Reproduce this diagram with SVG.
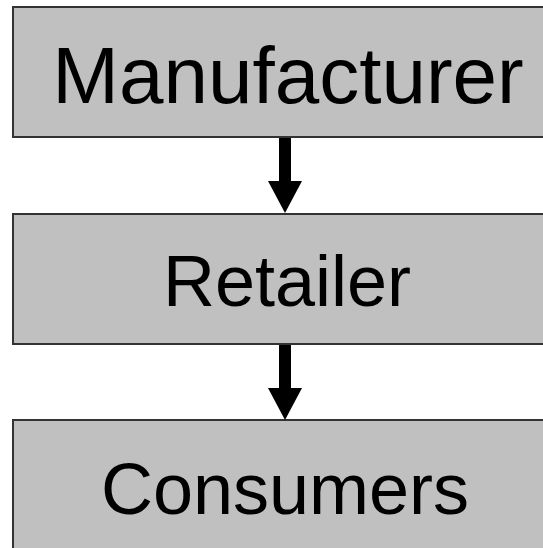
<svg xmlns="http://www.w3.org/2000/svg" width="543" height="548" viewBox="0 0 543 548">
<style>
.box{fill:#c0c0c0;stroke:#333;stroke-width:2}
.lbl{font-family:"Liberation Sans",Arial,sans-serif;font-size:72px;fill:#000;text-anchor:middle}
</style>
<rect width="543" height="548" fill="#fff"/>
<g id="manufacturer"><rect class="box" x="13" y="7" width="550" height="130"/><text class="lbl" x="288" y="103" style="font-size:80px">Manufacturer</text></g>
<g id="retailer"><rect class="box" x="13" y="214" width="550" height="130"/><text class="lbl" x="287" y="306">Retailer</text></g>
<g id="consumers"><rect class="box" x="13" y="420" width="550" height="140"/><text class="lbl" x="285" y="514">Consumers</text></g>
<g id="connectors" fill="#000">
<polygon points="279,138 291,138 291,181 302,181 285,213 268,181 279,181"/>
<polygon points="279,345 291,345 291,388 302,388 285,420 268,388 279,388"/>
</g>
</svg>
